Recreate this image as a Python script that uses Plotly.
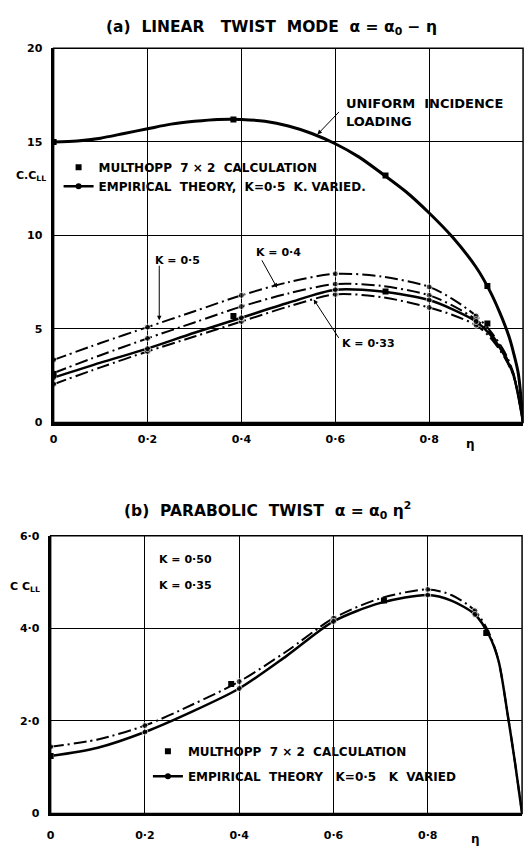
import plotly.graph_objects as go

# ---------------- data: (a) linear twist mode ----------------
eta_u = [0, 0.05, 0.1, 0.15, 0.2, 0.25, 0.3, 0.35, 0.4, 0.45, 0.5, 0.55, 0.6, 0.65,
         0.7, 0.75, 0.8, 0.85, 0.9, 0.93, 0.95, 0.97, 0.98, 0.99, 1.0]
cc_uniform = [15.0, 15.05, 15.2, 15.45, 15.7, 15.95, 16.1, 16.2, 16.2, 16.1, 15.85, 15.45,
              14.9, 14.2, 13.3, 12.35, 11.2, 9.9, 8.3, 7.0, 5.9, 4.6, 3.7, 2.6, 0.0]

eta_a = [0, 0.1, 0.2, 0.3, 0.4, 0.5, 0.6, 0.7, 0.8, 0.85, 0.9, 0.93, 0.96, 0.98, 1.0]
cc_k050 = [3.35, 4.25, 5.1, 5.95, 6.8, 7.5, 7.95, 7.8, 7.25, 6.6, 5.7, 4.9, 3.8, 2.6, 0.0]
cc_k040 = [2.65, 3.6, 4.5, 5.35, 6.2, 6.9, 7.4, 7.3, 6.8, 6.25, 5.5, 4.8, 3.7, 2.55, 0.0]
cc_kvar = [2.4, 3.2, 3.95, 4.8, 5.6, 6.4, 7.1, 7.0, 6.55, 6.05, 5.4, 4.7, 3.6, 2.5, 0.0]
cc_k033 = [2.05, 2.95, 3.8, 4.6, 5.4, 6.2, 6.85, 6.7, 6.15, 5.75, 5.2, 4.55, 3.5, 2.45, 0.0]

eta_multhopp = [0, 0.383, 0.707, 0.924]
mult_uniform = [15.0, 16.2, 13.2, 7.3]
mult_twist_a = [2.6, 5.7, 7.0, 5.3]

# ---------------- data: (b) parabolic twist ----------------
eta_b = [0, 0.1, 0.2, 0.3, 0.4, 0.5, 0.6, 0.7, 0.8, 0.85, 0.9, 0.93, 0.95, 0.97, 0.985, 1.0]
cc_b_solid = [1.24, 1.42, 1.76, 2.2, 2.7, 3.4, 4.15, 4.55, 4.72, 4.6, 4.3, 3.85, 3.3, 2.1, 1.1, 0.0]
cc_b_dash = [1.44, 1.6, 1.9, 2.35, 2.85, 3.5, 4.22, 4.65, 4.84, 4.72, 4.38, 3.9, 3.3, 2.1, 1.1, 0.0]
mult_b = [1.24, 2.8, 4.6, 3.9]

dot_etas = [0, 0.2, 0.4, 0.6, 0.8, 0.9]

x_ticks = [0, 0.2, 0.4, 0.6, 0.8, 1.0]
x_ticktext = ["0", "0·2", "0·4", "0·6", "0·8", "1·0"]
ya_ticks = [0, 5, 10, 15, 20]
ya_ticktext = ["0", "5", "10", "15", "20"]
yb_ticks = [0, 2, 4, 6]
yb_ticktext = ["0", "2·0", "4·0", "6·0"]

legend_mult = "MULTHOPP  7 × 2  CALCULATION"
legend_emp_a = "EMPIRICAL  THEORY,  K=0·5  K. VARIED."
legend_emp_b = "EMPIRICAL  THEORY   K=0·5   K  VARIED"

FONT = "DejaVu Sans"
DASHDOT = "13px,4px,2px,4px"
W, H = 532, 852


def P(px, py):
    return px / W, 1 - py / H


def dot_sizes(xs, size=6):
    return [size if round(x, 3) in dot_etas else 0 for x in xs]


fig = go.Figure()

# (a) uniform incidence loading
fig.add_trace(go.Scatter(x=eta_u, y=cc_uniform, mode="lines",
                         line=dict(color="black", width=3, shape="spline", smoothing=0.8),
                         showlegend=False, xaxis="x", yaxis="y", hoverinfo="skip"))
# (a) twist curves
for ys in [cc_k050, cc_k040, cc_k033]:
    fig.add_trace(go.Scatter(x=eta_a, y=ys, mode="lines+markers",
                             line=dict(color="black", width=2, dash=DASHDOT, shape="spline", smoothing=0.8),
                             marker=dict(color="black", size=dot_sizes(eta_a)),
                             showlegend=False, xaxis="x", yaxis="y"))
fig.add_trace(go.Scatter(x=eta_a, y=cc_kvar, mode="lines+markers",
                         line=dict(color="black", width=2.5, shape="spline", smoothing=0.8),
                         marker=dict(color="black", size=dot_sizes(eta_a)),
                         showlegend=False, xaxis="x", yaxis="y"))
fig.add_trace(go.Scatter(x=eta_multhopp, y=mult_uniform, mode="markers",
                         marker=dict(color="black", size=6, symbol="square"),
                         name=legend_mult, legend="legend", legendgroup="a1", xaxis="x", yaxis="y"))
fig.add_trace(go.Scatter(x=eta_multhopp, y=mult_twist_a, mode="markers",
                         marker=dict(color="black", size=6, symbol="square"),
                         showlegend=False, xaxis="x", yaxis="y"))
# legend stub for empirical theory (no data points)
fig.add_trace(go.Scatter(x=[None], y=[None], mode="lines+markers",
                         line=dict(color="black", width=2.5), marker=dict(color="black", size=6),
                         name=legend_emp_a, legend="legend", legendgroup="a2", xaxis="x", yaxis="y"))

# (b) parabolic twist
fig.add_trace(go.Scatter(x=eta_b, y=cc_b_dash, mode="lines+markers",
                         line=dict(color="black", width=2, dash=DASHDOT, shape="spline", smoothing=0.8),
                         marker=dict(color="black", size=dot_sizes(eta_b)),
                         showlegend=False, xaxis="x2", yaxis="y2"))
fig.add_trace(go.Scatter(x=eta_b, y=cc_b_solid, mode="lines+markers",
                         line=dict(color="black", width=2.5, shape="spline", smoothing=0.8),
                         marker=dict(color="black", size=dot_sizes(eta_b)),
                         showlegend=False, xaxis="x2", yaxis="y2"))
fig.add_trace(go.Scatter(x=eta_multhopp, y=mult_b, mode="markers",
                         marker=dict(color="black", size=6, symbol="square"),
                         name=legend_mult, legend="legend2", legendgroup="b1", xaxis="x2", yaxis="y2"))
fig.add_trace(go.Scatter(x=[None], y=[None], mode="lines+markers",
                         line=dict(color="black", width=2.5), marker=dict(color="black", size=6),
                         name=legend_emp_b, legend="legend2", legendgroup="b2", xaxis="x2", yaxis="y2"))

tickfont = dict(family=FONT, size=11, color="black", weight="bold")
axis_common = dict(showgrid=True, gridcolor="black", gridwidth=1, zeroline=False,
                   showline=True, linecolor="black", linewidth=3, mirror=False,
                   ticks="", tickfont=tickfont, fixedrange=True)
legend_font = dict(family=FONT, size=12, color="black", weight="bold")

fig.update_layout(
    width=W, height=H, margin=dict(l=0, r=0, t=0, b=0),
    paper_bgcolor="white", plot_bgcolor="white",
    xaxis=dict(domain=[50 / W, 523 / W], range=[0, 1], tickvals=x_ticks, ticktext=x_ticktext,
               anchor="y", ticklabelstandoff=4, **axis_common),
    yaxis=dict(domain=[1 - 423 / H, 1 - 43 / H], range=[0, 20], tickvals=ya_ticks, ticktext=ya_ticktext,
               anchor="x", ticklabelstandoff=6, **axis_common),
    xaxis2=dict(domain=[47 / W, 522 / W], range=[0, 1], tickvals=x_ticks, ticktext=x_ticktext,
                anchor="y2", ticklabelstandoff=9, **axis_common),
    yaxis2=dict(domain=[1 - 820 / H, 1 - 538 / H], range=[0, 6], tickvals=yb_ticks, ticktext=yb_ticktext,
                anchor="x2", ticklabelstandoff=6, **axis_common),
    legend=dict(x=P(55, 0)[0], y=P(0, 149)[1], xanchor="left", yanchor="top", bgcolor="rgba(0,0,0,0)",
                font=legend_font, tracegroupgap=0, itemsizing="trace", itemwidth=30),
    legend2=dict(x=P(145, 0)[0], y=P(0, 742)[1], xanchor="left", yanchor="top", bgcolor="rgba(0,0,0,0)",
                 font=legend_font, tracegroupgap=6, itemsizing="trace", itemwidth=30),
    showlegend=True,
)

# frames (top / right borders)
for xr, yr in [("x domain", "y domain"), ("x2 domain", "y2 domain")]:
    fig.add_shape(type="rect", xref=xr, yref=yr, x0=0, x1=1, y0=0, y1=1,
                  line=dict(color="black", width=1.5), fillcolor="rgba(0,0,0,0)", layer="above")

annots = []


def text(px, py, s, size=11, xanchor="center"):
    x, y = P(px, py)
    annots.append(dict(x=x, y=y, xref="paper", yref="paper", text=s, showarrow=False,
                       xanchor=xanchor, yanchor="middle",
                       font=dict(family=FONT, size=size, color="black", weight="bold")))


def pointer(x, y, ax, ay, xref="x", yref="y"):
    annots.append(dict(x=x, y=y, xref=xref, yref=yref, text="", showarrow=True, ax=ax, ay=ay,
                       arrowhead=2, arrowsize=0.9, arrowwidth=1, arrowcolor="black"))


text(270, 22, "(a)  LINEAR   TWIST  MODE  α = α<sub>0</sub> − η", size=15.5)
text(265, 512, "(b)  PARABOLIC  TWIST  α = α<sub>0</sub> η<sup>2</sup>", size=15.5)
text(27, 173, "C.C<sub>LL</sub>", size=11)
text(21, 590, "C C<sub>LL</sub>", size=11)
text(343, 99, "UNIFORM  INCIDENCE", size=13, xanchor="left")
text(343, 117, "LOADING", size=13, xanchor="left")
text(175, 258, "K = 0·5")
text(277, 250, "K = 0·4")
text(367, 343, "K = 0·33")
text(183, 562, "K = 0·50")
text(183, 588, "K = 0·35")
text(470, 445, "η", size=12)
text(475, 846, "η", size=12)

pointer(0.562, 15.4, 23, -24)
pointer(0.225, 5.47, 0, -56)
pointer(0.476, 7.2, -16, -29)
pointer(0.554, 6.58, 26, 40)

fig.update_layout(annotations=annots)

fig.write_html("out.html")
